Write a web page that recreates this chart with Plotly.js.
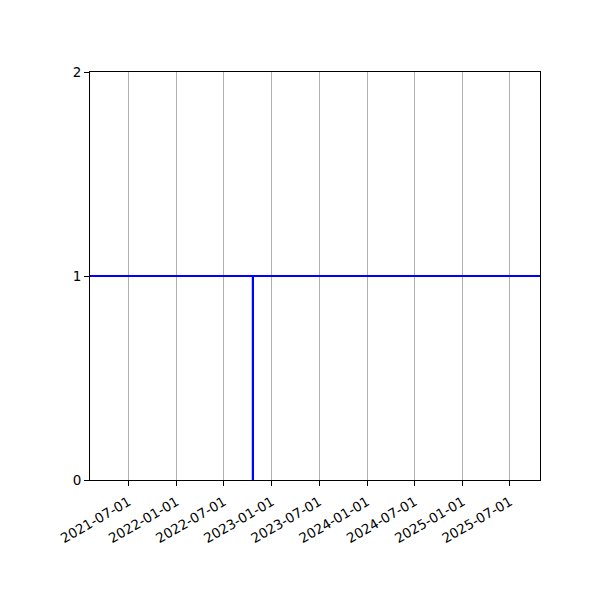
<!DOCTYPE html>
<html>
<head>
<meta charset="utf-8">
<script src="https://cdn.plot.ly/plotly-3.0.1.min.js"></script>
<style>
  html, body { margin: 0; padding: 0; background: #fff; }
  #chart { width: 600px; height: 600px; }
</style>
</head>
<body>
<div id="chart"></div>
<script>
// level line across the whole window
const levelDates = ['2021-02-03', '2025-10-24'];
const levelValues = [1, 1];

// the drop at the event date
const eventDates = ['2022-10-20', '2022-10-20'];
const eventValues = [0, 1];

const tickDates = ['2021-07-01', '2022-01-01', '2022-07-01', '2023-01-01', '2023-07-01',
                   '2024-01-01', '2024-07-01', '2025-01-01', '2025-07-01'];
const yTicks = [0, 1, 2];

const blue = '#0000ff';

const traces = [
  {x: levelDates, y: levelValues, mode: 'lines', line: {color: blue, width: 2}, hoverinfo: 'skip'},
  {x: eventDates, y: eventValues, mode: 'lines', line: {color: blue, width: 2.2}, hoverinfo: 'skip'}
];

const layout = {
  width: 600,
  height: 600,
  margin: {l: 90, r: 60, t: 72, b: 120},
  paper_bgcolor: '#fff',
  plot_bgcolor: '#fff',
  showlegend: false,
  font: {family: 'DejaVu Sans', size: 13.5, color: '#000'},
  xaxis: {
    type: 'date',
    range: [levelDates[0], levelDates[1]],
    tickvals: tickDates,
    ticktext: tickDates,
    tickangle: -30,
    ticks: 'outside',
    ticklen: 5,
    tickcolor: '#000',
    ticklabelstandoff: 3,
    showgrid: true,
    gridcolor: '#b0b0b0',
    gridwidth: 1,
    showline: true,
    linecolor: '#000',
    linewidth: 1,
    mirror: true,
    zeroline: false
  },
  yaxis: {
    range: [0, 2],
    tickvals: yTicks,
    ticks: 'outside',
    ticklen: 5,
    tickcolor: '#000',
    showgrid: false,
    showline: true,
    linecolor: '#000',
    linewidth: 1,
    mirror: true,
    zeroline: false
  }
};

Plotly.newPlot('chart', traces, layout, {displayModeBar: false, staticPlot: true});
</script>
</body>
</html>
